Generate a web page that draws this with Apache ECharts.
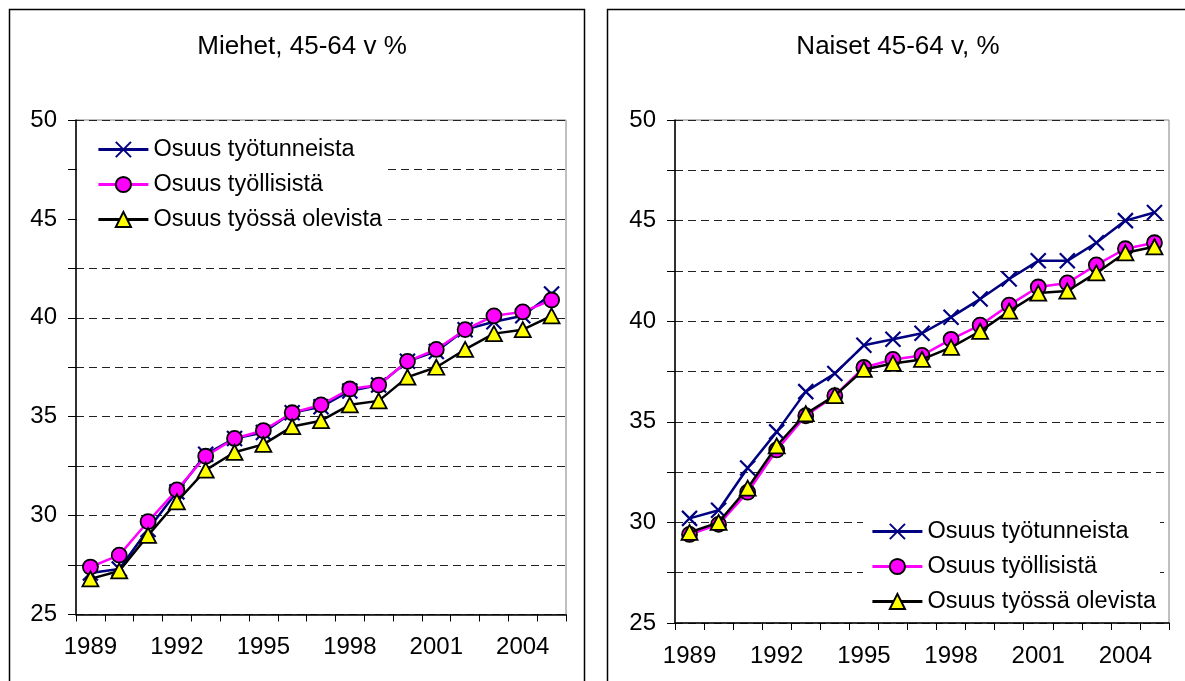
<!DOCTYPE html>
<html>
<head>
<meta charset="utf-8">
<script src="https://cdn.jsdelivr.net/npm/echarts@6/dist/echarts.min.js"></script>
<style>
html,body{margin:0;padding:0;background:#fff;}
#c{width:1185px;height:681px;}
</style>
</head>
<body>
<div id="c"></div>
<script>
var years = ['1989','1990','1991','1992','1993','1994','1995','1996','1997','1998','1999','2000','2001','2002','2003','2004','2005'];
var seriesNames = ['Osuus työtunneista','Osuus työllisistä','Osuus työssä olevista'];
var titleMen = 'Miehet, 45-64 v %';
var titleWomen = 'Naiset 45-64 v, %';

var menHours    = [27.1, 27.3, 29.3, 31.2, 33.1, 33.9, 34.2, 35.2, 35.5, 36.3, 36.6, 37.8, 38.3, 39.4, 39.8, 40.1, 41.2];
var menEmployed = [27.4, 28.0, 29.7, 31.3, 33.0, 33.9, 34.3, 35.2, 35.6, 36.4, 36.6, 37.8, 38.4, 39.4, 40.1, 40.3, 40.9];
var menAtWork   = [26.8, 27.2, 29.0, 30.7, 32.3, 33.2, 33.6, 34.5, 34.8, 35.6, 35.8, 37.0, 37.5, 38.4, 39.2, 39.4, 40.1];

var womenHours    = [30.2, 30.6, 32.7, 34.5, 36.5, 37.4, 38.8, 39.1, 39.4, 40.2, 41.1, 42.1, 43.0, 43.0, 43.9, 45.0, 45.4];
var womenEmployed = [29.4, 29.9, 31.5, 33.6, 35.3, 36.3, 37.7, 38.1, 38.3, 39.1, 39.8, 40.8, 41.7, 41.9, 42.8, 43.6, 43.9];
var womenAtWork   = [29.5, 30.0, 31.7, 33.8, 35.4, 36.3, 37.6, 37.9, 38.1, 38.7, 39.5, 40.5, 41.4, 41.5, 42.4, 43.4, 43.7];

var FONT = '"Liberation Sans", Arial, sans-serif';
var CROSS = 'path://M0,0L10,10M0,10L10,0';

function xAxisFor(gi) {
  return {
    type: 'category', gridIndex: gi, data: years, boundaryGap: true,
    axisLine: {lineStyle: {color: '#000', width: 1.5}},
    axisTick: {show: true, interval: 0, length: 7, lineStyle: {color: '#000', width: 1}},
    axisLabel: {interval: 2, color: '#000', fontSize: 24, fontFamily: FONT, margin: 21},
    splitLine: {show: false}
  };
}
function yAxisFor(gi) {
  return {
    type: 'value', gridIndex: gi, min: 25, max: 50, interval: 2.5,
    axisLine: {show: true, lineStyle: {color: '#000', width: 1.5}},
    axisTick: {show: true, length: 8, lineStyle: {color: '#000', width: 1}},
    axisLabel: {color: '#000', fontSize: 24, fontFamily: FONT, margin: 19,
      formatter: function (v) { return (Math.abs(v % 5) < 1e-6) ? String(v) : ''; }},
    splitLine: {show: true, lineStyle: {color: '#222', width: 1, type: [8, 5]}}
  };
}
function seriesFor(gi, hours, employed, atWork) {
  return [
    {name: seriesNames[0], type: 'line', xAxisIndex: gi, yAxisIndex: gi, data: hours,
     symbol: CROSS, symbolSize: 15, showAllSymbol: true,
     lineStyle: {color: '#000080', width: 2.5},
     itemStyle: {color: '#000080', borderColor: '#000080', borderWidth: 2.2},
     z: 2, animation: false},
    {name: seriesNames[1], type: 'line', xAxisIndex: gi, yAxisIndex: gi, data: employed,
     symbol: 'circle', symbolSize: 15, showAllSymbol: true,
     lineStyle: {color: '#ff00ff', width: 2.5},
     itemStyle: {color: '#ff00ff', borderColor: '#000', borderWidth: 1.8},
     z: 3, animation: false},
    {name: seriesNames[2], type: 'line', xAxisIndex: gi, yAxisIndex: gi, data: atWork,
     symbol: 'triangle', symbolSize: [16, 15], showAllSymbol: true,
     lineStyle: {color: '#000', width: 2.5},
     itemStyle: {color: '#ffff00', borderColor: '#000', borderWidth: 1.8},
     z: 4, animation: false}
  ];
}
function legendFor(left, top, pad) {
  return {
    orient: 'vertical', left: left, top: top, padding: pad,
    backgroundColor: '#fff', itemWidth: 50, itemHeight: 19, itemGap: 10,
    data: seriesNames, selectedMode: false, z: 10,
    lineStyle: {width: 2.8},
    textStyle: {fontSize: 23.5, fontFamily: FONT, color: '#000', lineHeight: 25}
  };
}

var chart = echarts.init(document.getElementById('c'), null, {renderer: 'canvas'});
var option = {
  animation: false,
  backgroundColor: '#fff',
  textStyle: {fontFamily: FONT},
  graphic: [
    {type: 'rect', shape: {x: 9.5, y: 9.5, width: 575, height: 720}, style: {fill: 'none', stroke: '#000', lineWidth: 1.5}, z: -10},
    {type: 'rect', shape: {x: 607.5, y: 9.5, width: 620, height: 720}, style: {fill: 'none', stroke: '#000', lineWidth: 1.5}, z: -10}
  ],
  title: [
    {text: titleMen, left: 297, top: 29, textAlign: 'center',
     textStyle: {fontSize: 26, fontWeight: 'normal', color: '#000', fontFamily: FONT}},
    {text: titleWomen, left: 893, top: 29, textAlign: 'center',
     textStyle: {fontSize: 26, fontWeight: 'normal', color: '#000', fontFamily: FONT}}
  ],
  grid: [
    {left: 76, top: 120, width: 490, height: 494.5, show: true, borderColor: '#808080', borderWidth: 1, backgroundColor: 'transparent'},
    {left: 675, top: 120, width: 494, height: 503, show: true, borderColor: '#808080', borderWidth: 1, backgroundColor: 'transparent'}
  ],
  legend: [
    legendFor(77, 127, [10, 4, 8, 20]),
    legendFor(863, 513, [6, 4, 6, 8])
  ],
  xAxis: [xAxisFor(0), xAxisFor(1)],
  yAxis: [yAxisFor(0), yAxisFor(1)],
  series: seriesFor(0, menHours, menEmployed, menAtWork).concat(seriesFor(1, womenHours, womenEmployed, womenAtWork))
};
chart.setOption(option);
</script>
</body>
</html>
